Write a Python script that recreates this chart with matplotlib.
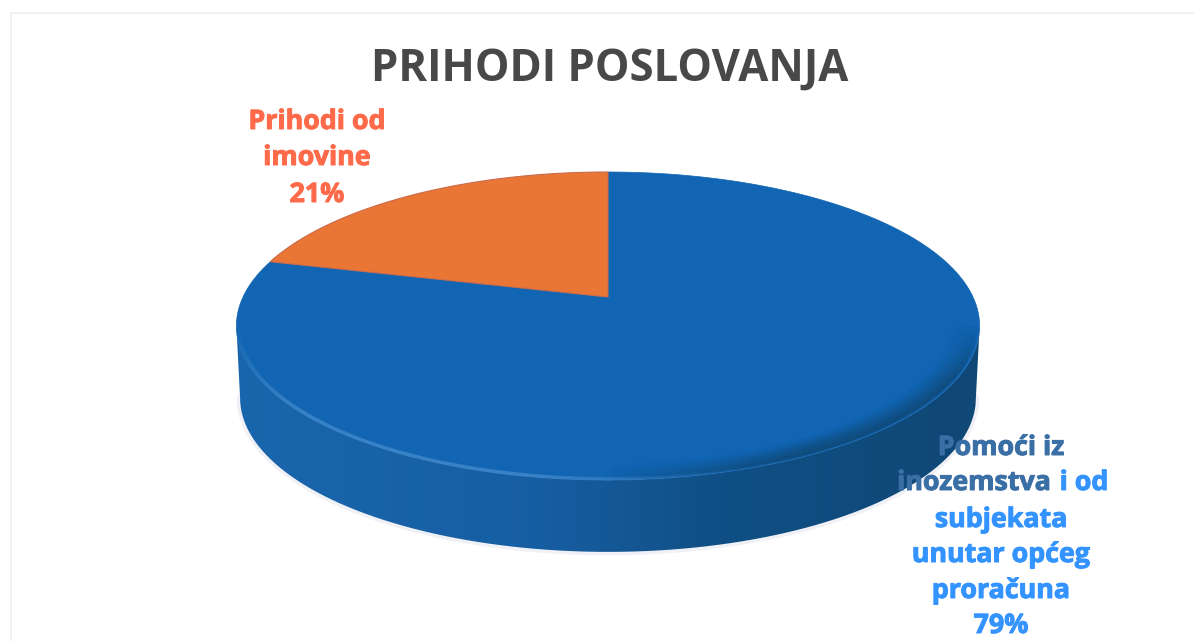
import numpy as np
import matplotlib
matplotlib.use('Agg')
import matplotlib.pyplot as plt
import matplotlib.patheffects as pe
from matplotlib.collections import LineCollection
from matplotlib.colors import to_rgb
from matplotlib.patches import Polygon, PathPatch
from matplotlib.path import Path

shares = [21, 79]
label_lines_orange = ['Prihodi od', 'imovine', '21%']
label_lines_blue = ['Pomoći iz', 'inozemstva', 'subjekata', 'unutar općeg', 'proračuna', '79%']
title = 'PRIHODI POSLOVANJA'

W, H = 1194, 641
fig = plt.figure(figsize=(W / 100, H / 100), dpi=100)
ax = fig.add_axes([0, 0, 1, 1])
ax.set_xlim(0, W)
ax.set_ylim(H, 0)
ax.axis('off')

# perspective of the pie disc
cx, cy = 608, 297
A, B, k = 365, 148.5, 0.188
depth = 72


def project(theta, r=1.0, dy=0.0, shrink=1.0):
    # theta measured counter clockwise from the top of the disc
    u = -r * np.sin(theta)
    v = r * np.cos(theta)
    w = 1 + k * v
    return cx + shrink * A * u / w, cy - B * v / w + dy


def slice_points(start, end):
    t = np.linspace(start, end, 200)
    x, y = project(t)
    return np.column_stack([np.r_[cx, x], np.r_[cy, y]])


def rim_line(theta, r, color, alpha, lw):
    x, y = project(theta, r=r)
    pts = np.column_stack([x, y])
    segs = np.stack([pts[:-1], pts[1:]], axis=1)
    rgba = np.zeros((len(segs), 4))
    rgba[:, :3] = to_rgb(color)
    rgba[:, 3] = alpha[:-1]
    ax.add_collection(LineCollection(segs, colors=rgba, linewidths=lw, zorder=4, capstyle='butt'))


# side wall runs between the widest points of the disc, so there is no notch
t0 = np.arccos(-k)
lower = np.linspace(t0, 2 * np.pi - t0, 300)
xa, ya = project(lower)
xb, yb = project(lower[::-1], dy=depth, shrink=0.99)
wall = Path(np.column_stack([np.r_[xa, xb], np.r_[ya, yb]]))

# pale halo of the scan under the pie
halo = Path(np.column_stack([xb, yb]))
ax.add_patch(PathPatch(halo, fc='none', ec='#f0f1f6', lw=5, zorder=0.5, joinstyle='round', capstyle='round'))
wall_patch = PathPatch(wall, fc='none', ec='none')
ax.add_patch(wall_patch)
stops = np.array([[0.10, 0.40, 0.68], [0.09, 0.37, 0.64], [0.06, 0.31, 0.52], [0.06, 0.28, 0.46]])
grad = np.stack([np.interp(np.linspace(0, 1, 256), [0, 0.4, 0.65, 1], stops[:, i])
                 for i in range(3)], axis=-1)[None, :, :]
im = ax.imshow(grad, extent=[230, 985, 560, 300], aspect='auto', zorder=1)
im.set_clip_path(wall_patch)
ax.set_xlim(0, W)
ax.set_ylim(H, 0)

# top face, slices start at the top of the disc
angles = np.cumsum([0] + shares) / sum(shares) * 2 * np.pi
blue = Polygon(slice_points(angles[1], angles[2]), closed=True, fc='#1265b2', ec='#1265b2', lw=0.5, zorder=2)
orange = Polygon(slice_points(angles[0], angles[1]), closed=True, fc='#e97635', ec='#c96a4a', lw=0.8, zorder=3)
ax.add_patch(blue)
ax.add_patch(orange)

# bevel: light line on the left of the front rim, soft dark blur on the right
arc = np.linspace(t0, 2 * np.pi - t0, 400)
fade_left = np.clip((np.pi * 1.1 - arc) / 0.5, 0, 1) * np.clip((arc - t0) / 0.5, 0, 1)
rim_line(arc, 0.995, '#4a8fd0', 0.7 * fade_left, 2.5)
fade_right = np.clip((arc - np.pi) / 0.5, 0, 1) * np.clip((2 * np.pi - t0 - arc) / 0.35, 0, 1)
for r in np.linspace(0.992, 0.93, 14):
    rim_line(arc, r, '#0f4a78', 0.8 * ((r - 0.925) / 0.07) ** 1.5 * fade_right, 2.0)

# faint page frame
ax.plot([11, 11], [H, 13], color='#f1f1f1', lw=1.5)
ax.plot([11, W], [13, 13], color='#f1f1f1', lw=1.5)

ax.text(610, 81, title, family='Open Sans', weight='bold', fontsize=31.4, color='#484848',
        ha='center', va='baseline')

heavy = [pe.withStroke(linewidth=0.7, foreground='#ff6b4a')]
for s, y in zip(label_lines_orange, [129, 165, 202]):
    ax.text(317, y, s, family='Open Sans', weight='bold', fontsize=19.3, color='#ff6b4a',
            ha='center', va='baseline', path_effects=heavy)

ys = [455, 490, 527, 562, 598, 633]
for s, y in zip(label_lines_blue, ys):
    col = '#3a6fa6' if s in ('Pomoći iz', 'inozemstva') else '#3393ff'
    x = 1001 if s != 'inozemstva' else 974
    ax.text(x, y, s, family='Open Sans', weight='bold', fontsize=19.3, color=col,
            ha='center', va='baseline', zorder=5,
            path_effects=[pe.withStroke(linewidth=0.7, foreground=col)])
ax.text(1084, 490, 'i od', family='Open Sans', weight='bold', fontsize=19.3, color='#3393ff',
        ha='center', va='baseline', zorder=5,
        path_effects=[pe.withStroke(linewidth=0.7, foreground='#3393ff')])

fig.savefig('out.png', dpi=100)
